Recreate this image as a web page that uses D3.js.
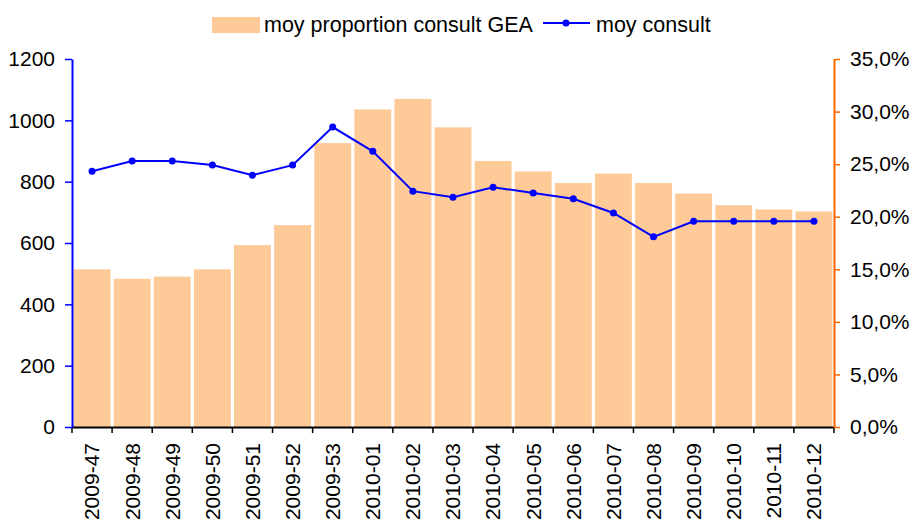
<!DOCTYPE html>
<html>
<head>
<meta charset="utf-8">
<script src="https://cdn.jsdelivr.net/npm/d3@7"></script>
<style>
  body { margin: 0; background: #fff; }
  svg { font-family: "Liberation Sans", Arial, sans-serif; }
  .axis text { font-size: 21px; fill: #000; }
</style>
</head>
<body>
<svg id="chart" width="914" height="522"></svg>
<script>
const weeks = ["2009-47", "2009-48", "2009-49", "2009-50", "2009-51", "2009-52", "2009-53",
    "2010-01", "2010-02", "2010-03", "2010-04", "2010-05", "2010-06", "2010-07", "2010-08",
    "2010-09", "2010-10", "2010-11", "2010-12"];
// moy proportion consult GEA (right axis, %)
const proportion = [15.0, 14.1, 14.3, 15.0, 17.3, 19.2, 27.0, 30.2, 31.2, 28.5,
    25.3, 24.3, 23.2, 24.1, 23.2, 22.2, 21.1, 20.7, 20.5];
// moy consult (left axis)
const consult = [834, 867, 867, 854, 821, 854, 978, 899, 769, 749,
    782, 763, 744, 698, 620, 671, 671, 671, 671];
const leftTicks = [0, 200, 400, 600, 800, 1000, 1200];
const rightTicks = [0, 5, 10, 15, 20, 25, 30, 35];

const margin = { top: 59, right: 80, bottom: 95, left: 72 };
const width = 914, height = 522;

const svg = d3.select("#chart");

const x = d3.scaleBand()
    .domain(weeks)
    .range([margin.left, width - margin.right])
    .paddingInner(0.08)
    .paddingOuter(0.04);

const yLeft = d3.scaleLinear().domain([0, 1200]).range([height - margin.bottom, margin.top]);
const yRight = d3.scaleLinear().domain([0, 35]).range([height - margin.bottom, margin.top]);

// bars
svg.append("g")
    .selectAll("rect")
    .data(proportion)
    .join("rect")
        .attr("x", (d, i) => x(weeks[i]))
        .attr("width", x.bandwidth())
        .attr("y", d => yRight(d))
        .attr("height", d => yRight(0) - yRight(d))
        .attr("fill", "#fdca98");

// x axis
let xAxis = svg.append("g")
    .attr("class", "axis x")
    .attr("transform", `translate(0, ${height - margin.bottom})`)
    .call(d3.axisBottom(x).tickSizeOuter(0).tickSizeInner(6));
xAxis.select(".domain").attr("stroke", "#000").attr("stroke-width", 2);
// ticks between categories
xAxis.selectAll(".tick line").remove();
xAxis.selectAll("line.sep")
    .data(d3.range(weeks.length + 1))
    .join("line")
        .attr("class", "sep")
        .attr("x1", i => margin.left + i * (width - margin.right - margin.left) / weeks.length)
        .attr("x2", i => margin.left + i * (width - margin.right - margin.left) / weeks.length)
        .attr("y1", 0)
        .attr("y2", 6)
        .attr("stroke", "#000")
        .attr("stroke-width", 1.5);
xAxis.selectAll(".tick text")
    .attr("transform", "rotate(-90)")
    .attr("x", -16)
    .attr("y", 0)
    .attr("dy", "0.35em")
    .attr("text-anchor", "end");

// left axis
let leftAxis = svg.append("g")
    .attr("class", "axis y")
    .attr("transform", `translate(${margin.left}, 0)`)
    .call(d3.axisLeft(yLeft).tickValues(leftTicks).tickFormat(d => d)
        .tickSizeOuter(0).tickSizeInner(7).tickPadding(10));
leftAxis.select(".domain").attr("stroke", "#0000ff").attr("stroke-width", 2);
leftAxis.selectAll(".tick line").attr("stroke", "#0000ff").attr("stroke-width", 1.5);

// right axis
let rightAxis = svg.append("g")
    .attr("class", "axis y2")
    .attr("transform", `translate(${width - margin.right}, 0)`)
    .call(d3.axisRight(yRight).tickValues(rightTicks).tickSizeOuter(0).tickSizeInner(6).tickPadding(10)
        .tickFormat(d => d.toFixed(1).replace(".", ",") + "%"));
rightAxis.select(".domain").attr("stroke", "#ff6600").attr("stroke-width", 2);
rightAxis.selectAll(".tick line").attr("stroke", "#ff6600").attr("stroke-width", 1.5);

// line
let line = d3.line()
    .x((d, i) => x(weeks[i]) + x.bandwidth() / 2)
    .y(d => yLeft(d));

svg.append("path")
    .datum(consult)
    .attr("d", line)
    .attr("fill", "none")
    .attr("stroke", "#0000ff")
    .attr("stroke-width", 2);

svg.append("g")
    .selectAll("circle")
    .data(consult)
    .join("circle")
        .attr("cx", (d, i) => x(weeks[i]) + x.bandwidth() / 2)
        .attr("cy", d => yLeft(d))
        .attr("r", 3.5)
        .attr("fill", "#0000ff");

// legend
let legend = svg.append("g").attr("class", "legend");
legend.append("rect")
    .attr("x", 212).attr("y", 17)
    .attr("width", 48).attr("height", 16)
    .attr("fill", "#fdca98");
legend.append("text")
    .attr("x", 264).attr("y", 32)
    .attr("font-size", 21.5)
    .text("moy proportion consult GEA");
legend.append("line")
    .attr("x1", 543).attr("x2", 590)
    .attr("y1", 23).attr("y2", 23)
    .attr("stroke", "#0000ff").attr("stroke-width", 2);
legend.append("circle")
    .attr("cx", 566).attr("cy", 23).attr("r", 3.5)
    .attr("fill", "#0000ff");
legend.append("text")
    .attr("x", 596).attr("y", 32)
    .attr("font-size", 21.5)
    .text("moy consult");
</script>
</body>
</html>
